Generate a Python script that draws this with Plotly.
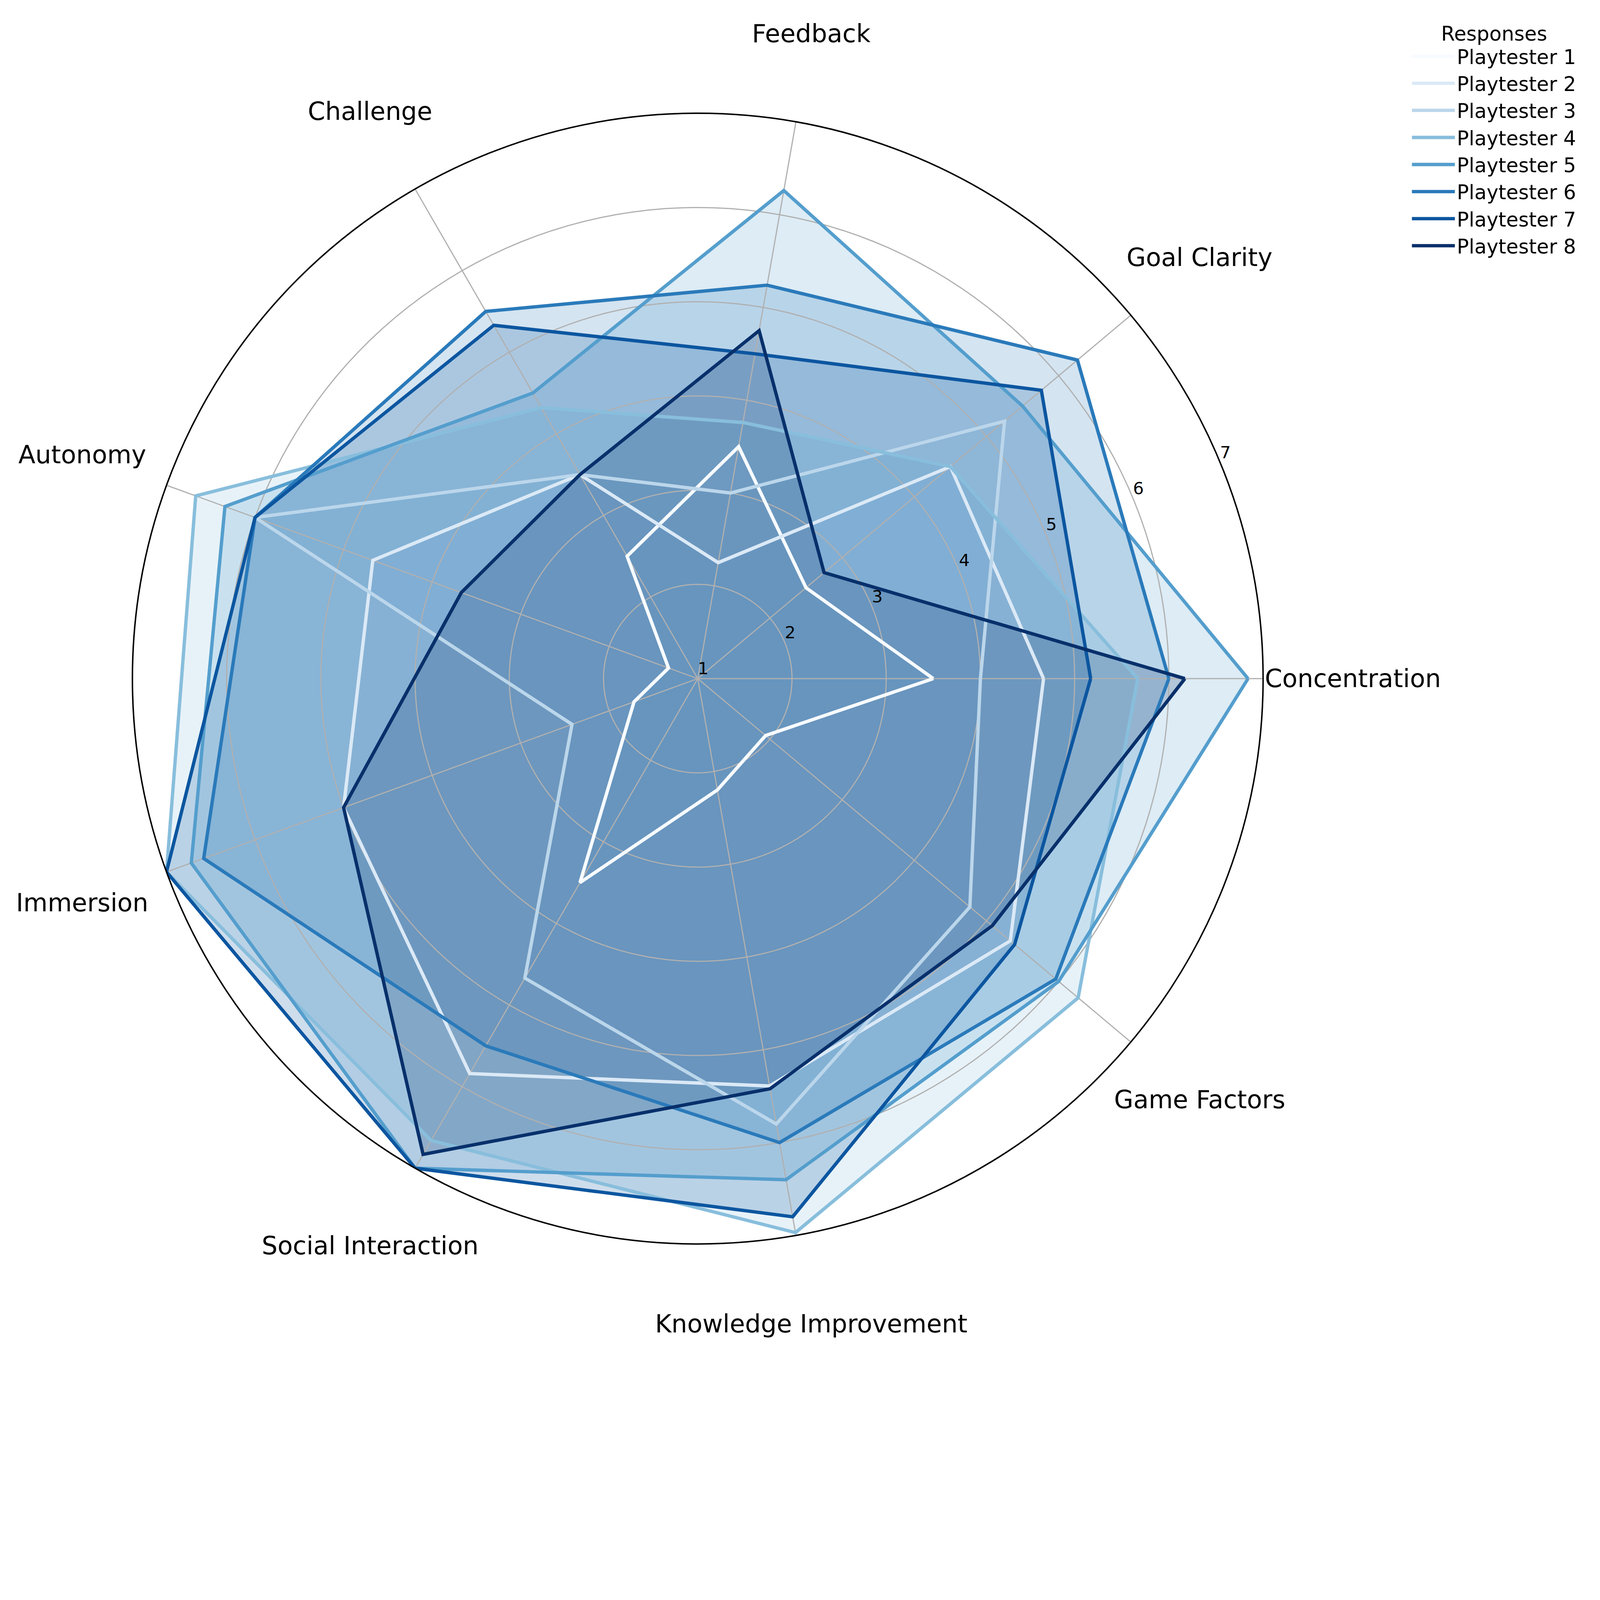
import math
import plotly.graph_objects as go

# categories around the radar, counterclockwise from the right
categories = ["Concentration", "Goal Clarity", "Feedback", "Challenge", "Autonomy",
              "Immersion", "Social Interaction", "Knowledge Improvement", "Game Factors"]

playtesters = ["Playtester 1", "Playtester 2", "Playtester 3", "Playtester 4",
               "Playtester 5", "Playtester 6", "Playtester 7", "Playtester 8"]

p1 = [3.5, 2.5, 3.5, 2.5, 1.33, 1.72, 3.5, 2.2, 1.94]
p2 = [4.67, 4.5, 2.25, 3.5, 4.67, 5.0, 5.84, 5.39, 5.33]
p3 = [4.0, 5.25, 3.0, 3.5, 6.0, 2.42, 4.67, 5.8, 4.77]
p4 = [5.67, 4.5, 3.76, 4.32, 6.67, 7.0, 6.66, 6.97, 6.27]
p5 = [6.84, 5.5, 6.26, 4.5, 6.34, 6.72, 7.0, 6.4, 6.0]
p6 = [6.0, 6.26, 5.24, 5.5, 6.0, 6.58, 5.5, 6.0, 5.96]
p7 = [5.17, 5.76, 4.5, 5.33, 6.0, 7.0, 7.0, 6.8, 5.39]
p8 = [6.17, 2.75, 4.75, 3.5, 3.67, 5.0, 6.83, 5.42, 5.08]

radial_ticks = [1, 2, 3, 4, 5, 6, 7]

# Blues colormap sampled at 8 even steps
colors = [(247, 251, 255), (219, 233, 246), (187, 214, 235), (136, 190, 220),
          (84, 158, 205), (42, 122, 186), (12, 86, 160), (8, 48, 107)]

series = [p1, p2, p3, p4, p5, p6, p7, p8]
angles = [i * 360 / len(categories) for i in range(len(categories))]

# reference canvas is in device px, the page is laid out in css px (4/3 device px)
W, H = 5472, 4622
S = 0.75
FONT = "DejaVu Sans"
GRID = "#b0b0b0"

fig = go.Figure()

# fills go underneath everything
for vals, c in zip(series, colors):
    rgba = "rgba(%d,%d,%d,0.2)" % c
    fig.add_trace(go.Scatterpolar(
        r=vals, theta=angles, mode="lines", fill="toself", fillcolor=rgba,
        line=dict(color=rgba, width=3 * S), showlegend=False, hoverinfo="skip"))

# grid between fills and outlines (like matplotlib's zorder)
ring_theta = list(range(0, 361, 2))
for t in radial_ticks[1:-1]:
    fig.add_trace(go.Scatterpolar(
        r=[t] * len(ring_theta), theta=ring_theta, mode="lines",
        line=dict(color=GRID, width=4 * S), showlegend=False, hoverinfo="skip"))
for a in angles:
    fig.add_trace(go.Scatterpolar(
        r=[radial_ticks[0], radial_ticks[-1]], theta=[a, a], mode="lines",
        line=dict(color=GRID, width=4 * S), showlegend=False, hoverinfo="skip"))

# outlines on top
for name, vals, c in zip(playtesters, series, colors):
    fig.add_trace(go.Scatterpolar(
        r=vals + vals[:1], theta=angles + angles[:1], mode="lines",
        line=dict(color="rgb(%d,%d,%d)" % c, width=11.5 * S), name=name,
        showlegend=True, hoverinfo="skip"))

# radial tick labels at 22.5 degrees
fig.add_trace(go.Scatterpolar(
    r=radial_ticks, theta=[22.5] * len(radial_ticks), mode="text",
    text=[str(t) for t in radial_ticks], textposition="top right",
    textfont=dict(size=58 * S, color="black", family=FONT),
    cliponaxis=False, showlegend=False, hoverinfo="skip"))

cx, cy, R = 2371, 2306, 1930
label_r = 2236

# category labels around the frame
annotations = []
for cat, a in zip(categories, angles):
    th = math.radians(a)
    annotations.append(dict(
        text=cat, showarrow=False, xref="paper", yref="paper",
        x=(cx + label_r * math.cos(th)) / W, y=1 - (cy - label_r * math.sin(th)) / H,
        xanchor="center", yanchor="middle",
        font=dict(size=85 * S, family=FONT, color="black")))

fig.update_layout(
    width=round(W * S), height=round(H * S),
    paper_bgcolor="white",
    margin=dict(l=0, r=0, t=0, b=0),
    font=dict(family=FONT, color="black"),
    annotations=annotations,
    polar=dict(
        domain=dict(x=[(cx - R) / W, (cx + R) / W],
                    y=[1 - (cy + R) / H, 1 - (cy - R) / H]),
        bgcolor="white",
        radialaxis=dict(range=[1, 7], tickvals=radial_ticks, showticklabels=False,
                        showline=False, ticks="", showgrid=False),
        angularaxis=dict(rotation=0, direction="counterclockwise", thetaunit="degrees",
                         tickmode="array", tickvals=angles, showticklabels=False,
                         ticks="", showgrid=False,
                         showline=True, linecolor="black", linewidth=5 * S,
                         layer="above traces"),
    ),
    legend=dict(
        x=4802 / W, xanchor="left", y=1 - 40 / H, yanchor="top",
        bgcolor="rgba(0,0,0,0)", borderwidth=0,
        font=dict(size=51, family=FONT, color="black"),
        title=dict(text="Responses", side="top center",
                   font=dict(size=51, family=FONT, color="black")),
        itemwidth=110,
    ),
)

fig.write_html("out.html")
